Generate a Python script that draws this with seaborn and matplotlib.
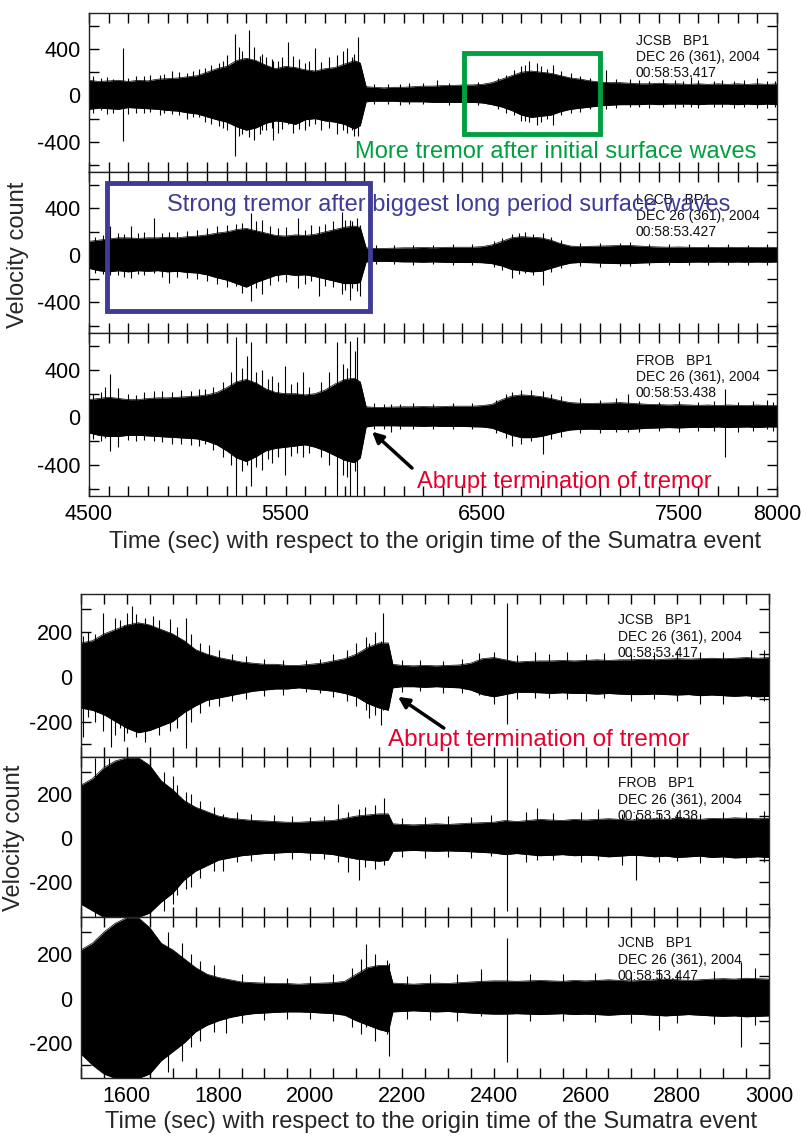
import numpy as np
import pandas as pd
import seaborn as sns
import matplotlib
matplotlib.use("Agg")
import matplotlib.pyplot as plt
from matplotlib.patches import Rectangle
from matplotlib.ticker import FixedLocator, FuncFormatter

# ---------------- DATA ----------------
# Upper figure: time grid (s) and envelope peaks (velocity counts)
TOP_T = [4500, 4550, 4600, 4650, 4700, 4750, 4800, 4850, 4900, 4950,
         5000, 5050, 5100, 5150, 5200, 5250, 5300, 5350, 5400, 5450,
         5500, 5550, 5600, 5650, 5700, 5750, 5800, 5850, 5880, 5910,
         5950, 6000, 6050, 6100, 6150, 6200, 6250, 6300, 6350, 6400,
         6450, 6500, 6550, 6600, 6650, 6700, 6750, 6800, 6850, 6900,
         6950, 7000, 7050, 7100, 7150, 7200, 7250, 7300, 7350, 7400,
         7450, 7500, 7550, 7600, 7650, 7700, 7750, 7800, 7850, 7900,
         7950, 8000]

T1_HI = [130, 120, 125, 130, 120, 130, 125, 140, 145, 150,
         160, 170, 200, 230, 250, 300, 320, 300, 260, 230,
         250, 240, 220, 210, 230, 240, 270, 300, 280, 75,
         70, 65, 70, 70, 75, 80, 80, 85, 85, 90,
         90, 95, 110, 140, 170, 200, 210, 200, 190, 170,
         150, 140, 125, 115, 110, 110, 105, 100, 100, 105,
         100, 100, 95, 100, 95, 100, 95, 100, 95, 100,
         95, 100]
T1_LO = [-120, -110, -115, -120, -105, -110, -115, -120, -130, -135,
         -150, -160, -185, -210, -230, -270, -300, -280, -240, -220,
         -230, -250, -210, -200, -220, -230, -250, -290, -260, -55,
         -50, -50, -50, -55, -55, -55, -60, -60, -60, -60,
         -60, -65, -80, -100, -130, -170, -190, -180, -170, -140,
         -120, -110, -100, -90, -85, -80, -80, -80, -75, -80,
         -75, -75, -75, -80, -75, -75, -75, -80, -75, -80,
         -75, -80]

T2_HI = [120, 130, 140, 150, 150, 145, 150, 150, 155, 150,
         160, 165, 175, 190, 200, 220, 230, 210, 190, 170,
         165, 175, 170, 180, 200, 220, 240, 250, 240, 65,
         60, 60, 62, 65, 65, 68, 65, 68, 70, 70,
         70, 75, 90, 120, 150, 160, 155, 150, 130, 100,
         80, 75, 78, 80, 82, 85, 85, 80, 75, 72,
         70, 72, 70, 68, 70, 68, 70, 68, 70, 68,
         70, 68]
T2_LO = [-110, -130, -140, -130, -140, -130, -135, -130, -140, -135,
         -145, -150, -165, -190, -210, -240, -270, -230, -200, -170,
         -160, -170, -165, -180, -200, -220, -240, -240, -230, -55,
         -50, -50, -52, -55, -55, -58, -55, -58, -60, -60,
         -60, -62, -70, -90, -120, -130, -140, -135, -110, -85,
         -65, -60, -62, -65, -68, -70, -70, -65, -62, -60,
         -58, -60, -58, -56, -58, -56, -58, -56, -58, -56,
         -58, -56]

T3_HI = [150, 160, 170, 160, 150, 150, 160, 165, 165, 170,
         175, 180, 190, 210, 250, 300, 320, 290, 240, 210,
         200, 200, 190, 200, 230, 280, 320, 330, 300, 90,
         85, 85, 88, 90, 90, 92, 90, 92, 95, 95,
         95, 100, 110, 150, 180, 190, 185, 175, 160, 140,
         125, 120, 118, 120, 122, 125, 120, 115, 110, 108,
         105, 108, 105, 102, 105, 100, 105, 102, 100, 105,
         100, 100]
T3_LO = [-130, -150, -160, -160, -150, -150, -155, -160, -165, -170,
         -175, -180, -200, -230, -280, -340, -370, -330, -280, -260,
         -250, -240, -230, -250, -280, -320, -360, -380, -340, -80,
         -70, -70, -70, -72, -72, -75, -72, -75, -75, -75,
         -78, -80, -90, -120, -150, -170, -170, -160, -140, -120,
         -105, -100, -98, -100, -100, -102, -100, -95, -90, -88,
         -85, -88, -85, -82, -85, -80, -85, -82, -80, -85,
         -80, -80]

# isolated spikes (time, max, min) read along the trace edges
T1_SPK_T = [4671, 4740, 4920, 5060, 5160, 5243, 5280, 5314, 5340, 5380, 5430, 5438,
            5513, 5650, 5811, 5840, 5870, 6271, 6700, 6740, 6780, 6860, 7130, 7560, 7900,
            4520, 4560, 4590, 4620, 4700, 4780, 4810, 4860, 4880, 4960, 5000, 5030,
            5090, 5120, 5180, 5200, 5265, 5370, 5400, 5460, 5480, 5540, 5570, 5600,
            5620, 5680, 5720, 5760, 5790, 5850,
            5950, 6020, 6080, 6130, 6200, 6330, 6420, 6480, 6580, 6620, 6660, 6720,
            6800, 6830, 6900, 6950, 7000, 7050, 7180, 7250, 7300, 7350, 7420, 7480,
            7520, 7600, 7680, 7720, 7780, 7830, 7950, 7990]
T1_SPK_HI = [405, 170, 210, 230, 280, 525, 380, 560, 420, 360, 310, 300,
             460, 410, 405, 330, 500, 130, 250, 300, 280, 260, 215, 160, 150,
             170, 150, 160, 140, 150, 170, 180, 175, 185, 200, 190, 210,
             240, 260, 300, 350, 420, 340, 330, 300, 330, 340, 310, 280,
             300, 290, 330, 350, 380, 360,
             100, 95, 100, 110, 105, 110, 110, 115, 150, 180, 220, 260,
             250, 230, 210, 190, 170, 150, 140, 140, 130, 120, 140, 130,
             125, 130, 120, 130, 120, 130, 120, 125]
T1_SPK_LO = [-390, -150, -160, -190, -260, -525, -330, -360, -380, -300, -280, -385,
             -250, -250, -320, -300, -350, -60, -220, -230, -255, -255, -120, -100, -110,
             -150, -130, -160, -150, -160, -150, -140, -170, -150, -170, -200, -190,
             -230, -250, -280, -300, -350, -330, -300, -320, -290, -320, -290, -300,
             -260, -300, -280, -330, -300, -350,
             -70, -70, -80, -70, -75, -80, -70, -85, -120, -150, -170, -220,
             -230, -200, -170, -150, -140, -120, -110, -100, -100, -110, -100, -110,
             -100, -110, -100, -100, -110, -100, -110, -100]

T2_SPK_T = [4607, 4712, 4830, 4909, 5249, 5323, 5380, 5564, 5668, 5786, 5826,
            5865, 5878, 6651, 6716, 6808, 7200, 7650,
            4530, 4570, 4650, 4680, 4750, 4780, 4870, 4950, 5000, 5050, 5100, 5150,
            5200, 5280, 5350, 5420, 5460, 5500, 5600, 5630, 5700, 5740, 5800, 5840,
            5960, 6050, 6150, 6250, 6350, 6450, 6560, 6600, 6690, 6760, 6850, 6900,
            7000, 7100, 7250, 7350, 7450, 7550, 7750, 7850, 7950]
T2_SPK_HI = [254, 250, 320, 200, 270, 360, 300, 315, 250, 370, 300,
             320, 260, 180, 200, 190, 110, 100,
             160, 170, 190, 180, 190, 200, 190, 200, 210, 220, 230, 250,
             260, 280, 290, 250, 230, 240, 220, 260, 270, 290, 300, 290,
             85, 90, 85, 90, 95, 95, 120, 150, 190, 185, 160, 130,
             110, 110, 115, 100, 95, 95, 95, 90, 95]
T2_SPK_LO = [-170, -190, -150, -235, -260, -390, -330, -280, -345, -330, -375,
             -300, -345, -190, -150, -250, -90, -85,
             -150, -160, -170, -180, -160, -170, -180, -180, -190, -200, -220, -240,
             -270, -320, -280, -250, -220, -230, -240, -220, -260, -270, -290, -280,
             -70, -75, -80, -75, -80, -80, -100, -120, -160, -170, -140, -110,
             -90, -95, -90, -85, -80, -80, -80, -85, -80]

T3_SPK_T = [4581, 4607, 4647, 4830, 5092, 5249, 5302, 5323, 5380, 5433, 5498, 5590,
            5760, 5826, 5852, 5865, 6035, 6651, 6808, 7240, 7738, 7950,
            4520, 4560, 4700, 4740, 4780, 4870, 4920, 4970, 5020, 5060, 5130, 5180,
            5220, 5280, 5350, 5410, 5460, 5530, 5560, 5620, 5680, 5720, 5790, 5810,
            5950, 6000, 6080, 6150, 6250, 6350, 6450, 6570, 6620, 6700, 6750, 6850,
            6900, 7000, 7100, 7180, 7300, 7400, 7500, 7600, 7680, 7800, 7880, 7980]
T3_SPK_HI = [260, 363, 250, 220, 240, 680, 520, 635, 400, 350, 435, 380,
             635, 640, 560, 680, 110, 210, 220, 200, 240, 150,
             200, 210, 200, 190, 210, 220, 210, 230, 220, 240, 260, 300,
             380, 420, 380, 320, 300, 280, 300, 260, 300, 380, 450, 420,
             120, 110, 115, 120, 115, 120, 125, 150, 200, 230, 230, 200,
             180, 160, 150, 160, 140, 130, 140, 130, 140, 130, 140, 130]
T3_SPK_LO = [-170, -280, -250, -200, -220, -680, -400, -580, -440, -380, -480, -330,
             -680, -680, -450, -680, -120, -240, -310, -120, -330, -100,
             -180, -200, -190, -200, -190, -210, -220, -220, -230, -240, -270, -330,
             -400, -450, -420, -350, -330, -320, -300, -300, -330, -400, -480, -500,
             -100, -95, -100, -95, -100, -100, -100, -130, -170, -220, -200, -180,
             -160, -130, -130, -120, -120, -110, -120, -110, -110, -120, -110, -110]

# Lower figure
BOT_T = [1500, 1525, 1550, 1575, 1600, 1625, 1650, 1675, 1700, 1725,
         1750, 1775, 1800, 1825, 1850, 1875, 1900, 1925, 1950, 1975,
         2000, 2025, 2050, 2075, 2100, 2125, 2150, 2170, 2180, 2200,
         2225, 2250, 2275, 2300, 2325, 2350, 2375, 2400, 2425, 2450,
         2475, 2500, 2525, 2550, 2575, 2600, 2625, 2650, 2675, 2700,
         2725, 2750, 2775, 2800, 2825, 2850, 2875, 2900, 2925, 2950,
         2975, 3000]

B1_HI = [150, 160, 190, 210, 230, 240, 230, 210, 190, 160,
         120, 100, 85, 75, 65, 60, 55, 55, 50, 50,
         55, 60, 70, 80, 100, 130, 150, 150, 55, 50,
         48, 50, 48, 50, 52, 60, 80, 85, 75, 65,
         68, 70, 70, 72, 70, 72, 75, 72, 75, 75,
         78, 75, 78, 80, 78, 80, 82, 80, 82, 85,
         82, 85]
B1_LO = [-140, -150, -170, -200, -230, -250, -240, -220, -200, -160,
         -130, -105, -95, -85, -75, -65, -60, -55, -55, -50,
         -55, -60, -65, -75, -90, -120, -140, -150, -50, -45,
         -45, -48, -45, -48, -50, -60, -80, -90, -80, -70,
         -70, -72, -75, -72, -75, -75, -78, -75, -78, -80,
         -80, -78, -80, -82, -80, -85, -82, -85, -88, -85,
         -90, -88]

B2_HI = [240, 270, 320, 350, 365, 365, 330, 260, 220, 170,
         140, 120, 100, 90, 85, 80, 78, 75, 72, 72,
         75, 78, 80, 90, 100, 105, 110, 110, 65, 62,
         60, 62, 65, 62, 65, 68, 70, 72, 80, 75,
         80, 85, 82, 80, 85, 82, 85, 88, 85, 82,
         85, 88, 85, 90, 88, 85, 90, 88, 92, 90,
         88, 90]
B2_LO = [-300, -330, -360, -360, -360, -360, -340, -290, -250, -190,
         -150, -125, -100, -90, -80, -75, -70, -68, -65, -65,
         -68, -70, -75, -85, -95, -100, -105, -100, -60, -58,
         -56, -58, -60, -58, -60, -62, -65, -68, -75, -70,
         -75, -80, -78, -75, -80, -78, -80, -85, -82, -78,
         -80, -85, -82, -88, -85, -82, -88, -85, -90, -88,
         -85, -88]

B3_HI = [220, 250, 300, 340, 365, 365, 320, 250, 220, 180,
         140, 110, 95, 85, 75, 72, 70, 68, 68, 65,
         68, 70, 72, 78, 110, 140, 150, 150, 70, 68,
         65, 68, 70, 68, 72, 75, 78, 80, 80, 78,
         80, 82, 80, 78, 82, 80, 82, 85, 82, 80,
         82, 85, 88, 85, 82, 85, 88, 90, 88, 92,
         90, 88]
B3_LO = [-250, -300, -340, -360, -360, -360, -340, -280, -240, -200,
         -150, -120, -100, -85, -75, -68, -65, -62, -60, -60,
         -62, -65, -68, -75, -100, -120, -140, -150, -60, -58,
         -55, -58, -60, -58, -62, -65, -68, -70, -70, -68,
         -70, -72, -70, -68, -72, -70, -72, -75, -72, -70,
         -72, -75, -78, -75, -72, -75, -78, -80, -78, -82,
         -80, -78]

B1_SPK_T = [1505, 1548, 1566, 1594, 1600, 1611, 1656, 1694, 1728, 1760, 2122, 2128,
            2155, 2159, 2367, 2428, 2490, 2560, 2700, 2850, 2960,
            1515, 1530, 1575, 1585, 1620, 1640, 1670, 1710, 1740, 1780, 1800, 1830,
            1860, 1900, 1940, 1990, 2020, 2050, 2080, 2100, 2140, 2200, 2240, 2290,
            2330, 2400, 2450, 2520, 2600, 2640, 2750, 2800, 2900, 2990]
B1_SPK_HI = [180, 285, 200, 230, 284, 313, 270, 255, 262, 150, 175, 150,
             160, 284, 105, 330, 110, 110, 100, 110, 120,
             200, 190, 260, 250, 280, 260, 250, 220, 190, 140, 120, 100,
             90, 80, 75, 75, 80, 100, 120, 150, 200, 75, 75, 70,
             80, 110, 95, 100, 100, 105, 110, 115, 110, 120]
B1_SPK_LO = [-270, -240, -315, -285, -250, -230, -230, -240, -320, -160, -150, -185,
             -215, -150, -80, -210, -95, -100, -110, -120, -100,
             -180, -200, -260, -230, -270, -290, -260, -230, -200, -130, -130, -110,
             -100, -85, -80, -70, -75, -90, -110, -130, -170, -70, -65, -75,
             -75, -120, -100, -95, -110, -95, -100, -110, -120, -110]

B2_SPK_T = [1530, 1560, 1680, 1700, 1740, 1810, 2061, 2083, 2106, 2161, 2394, 2428,
            2494, 2628, 2711, 2590, 2900,
            1710, 1730, 1760, 1790, 1840, 1870, 1920, 1960, 2000, 2030, 2120, 2140,
            2200, 2250, 2300, 2350, 2470, 2530, 2680, 2760, 2800, 2850, 2950, 2990]
B2_SPK_HI = [365, 365, 300, 280, 200, 110, 157, 120, 130, 180, 105, 365,
             135, 130, 110, 120, 120,
             240, 210, 170, 140, 120, 110, 105, 100, 95, 100, 140, 150,
             90, 95, 100, 95, 120, 115, 110, 115, 120, 110, 120, 125]
B2_SPK_LO = [-360, -360, -330, -300, -220, -150, -110, -155, -190, -120, -80, -330,
             -100, -100, -190, -110, -115,
             -260, -230, -180, -150, -110, -105, -100, -95, -100, -95, -130, -140,
             -85, -90, -85, -90, -110, -100, -120, -110, -105, -115, -115, -110]

B3_SPK_T = [1690, 1720, 1817, 2122, 2167, 2172, 2372, 2428, 2761, 2939,
            1740, 1760, 1790, 1850, 1900, 1950, 2000, 2050, 2090, 2110, 2140, 2210,
            2260, 2320, 2480, 2550, 2620, 2700, 2800, 2880, 2970]
B3_SPK_HI = [300, 250, 90, 245, 175, 160, 135, 275, 135, 165,
             200, 170, 150, 110, 100, 95, 100, 110, 140, 180, 200, 100,
             110, 110, 110, 110, 115, 120, 120, 125, 140]
B3_SPK_LO = [-330, -280, -155, -130, -160, -257, -80, -285, -140, -220,
             -220, -190, -150, -110, -95, -90, -90, -100, -130, -160, -190, -90,
             -95, -100, -100, -100, -105, -110, -110, -115, -120]

TOP_STATIONS = [["JCSB   BP1", "DEC 26 (361), 2004", "00:58:53.417"],
                ["LCCB   BP1", "DEC 26 (361), 2004", "00:58:53.427"],
                ["FROB   BP1", "DEC 26 (361), 2004", "00:58:53.438"]]
BOT_STATIONS = [["JCSB   BP1", "DEC 26 (361), 2004", "00:58:53.417"],
                ["FROB   BP1", "DEC 26 (361), 2004", "00:58:53.438"],
                ["JCNB   BP1", "DEC 26 (361), 2004", "00:58:53.447"]]

TOP_XLABELS = [4500, 5500, 6500, 7500, 8000]
TOP_YLABELS = [-400, 0, 400]
BOT_XLABELS = [1600, 1800, 2000, 2200, 2400, 2600, 2800, 3000]
BOT_YLABELS = [-200, 0, 200]

XLABEL = "Time (sec) with respect to the origin time of the Sumatra event"
YLABEL = "Velocity count"

# ---------------- STYLE ----------------
sns.set_style("ticks")
FONT = ["Liberation Sans Narrow", "Liberation Sans", "DejaVu Sans"]
plt.rcParams["font.family"] = FONT
plt.rcParams["axes.linewidth"] = 1.0

GREEN = "#00a040"
BLUE = "#3f3c96"
RED = "#e6002d"

W, H = 806, 1138
fig = plt.figure(figsize=(W / 100, H / 100), dpi=100)


def add_ax(left, top, right, bottom):
    return fig.add_axes([left / W, 1 - bottom / H, (right - left) / W, (bottom - top) / H])


def draw_trace(ax, t, hi, lo, st, sh, sl):
    df = pd.DataFrame({"t": t, "hi": hi, "lo": lo})
    ax.fill_between(df["t"], df["lo"], df["hi"], color="black", lw=0)
    sns.lineplot(data=df, x="t", y="hi", ax=ax, color="black", lw=0.5)
    sns.lineplot(data=df, x="t", y="lo", ax=ax, color="black", lw=0.5)
    ax.vlines(st, sl, sh, color="black", lw=0.8)
    ax.set_xlabel("")
    ax.set_ylabel("")


def style_ax(ax, xlim, ylim, xticks, xlabels, yticks, ylabels, show_x):
    ax.set_xlim(*xlim)
    ax.set_ylim(*ylim)
    ax.xaxis.set_major_locator(FixedLocator(xticks))
    ax.yaxis.set_major_locator(FixedLocator(yticks))
    ax.xaxis.set_major_formatter(FuncFormatter(
        lambda v, p: (str(int(round(v))) if (show_x and int(round(v)) in xlabels) else "")))
    ax.yaxis.set_major_formatter(FuncFormatter(
        lambda v, p: (str(int(round(v))) if int(round(v)) in ylabels else "")))
    ax.tick_params(direction="in", length=7, width=1, top=True, right=True,
                   labelsize=15.5, pad=6, colors="black")
    for s in ax.spines.values():
        s.set_color("#222222")


def station(ax, lines, xfrac, offs):
    for line, off in zip(lines, offs):
        ax.annotate(line, xy=(xfrac, 1), xycoords="axes fraction",
                    xytext=(0, -off), textcoords="offset pixels",
                    ha="left", va="center", fontsize=10,
                    family=FONT, color="#111111", zorder=6)


# ---------------- UPPER FIGURE ----------------
top_axes = [add_ax(89, 13, 777, 172), add_ax(89, 172, 777, 333), add_ax(89, 333, 777, 496)]
top_data = [(T1_HI, T1_LO, T1_SPK_T, T1_SPK_HI, T1_SPK_LO),
            (T2_HI, T2_LO, T2_SPK_T, T2_SPK_HI, T2_SPK_LO),
            (T3_HI, T3_LO, T3_SPK_T, T3_SPK_HI, T3_SPK_LO)]
for i, (ax, d) in enumerate(zip(top_axes, top_data)):
    draw_trace(ax, TOP_T, d[0], d[1], d[2], d[3], d[4])
    style_ax(ax, (4500, 8000), (-660, 710), list(range(4500, 8001, 100)), TOP_XLABELS,
             [-600, -400, -200, 0, 200, 400, 600], TOP_YLABELS, show_x=(i == 2))
    station(ax, TOP_STATIONS[i], (636 - 89) / 688, [28, 44, 60])

# annotations upper figure
ax1, ax2, ax3 = top_axes
ax1.add_patch(Rectangle((6408, -332), 692, 698, fill=False, ec=GREEN, lw=3.5, zorder=5))
ax1.text(6876, -485, "More tremor after initial surface waves", color=GREEN,
         ha="center", va="center", fontsize=17, zorder=6)
ax2.add_patch(Rectangle((4592, -477), 1338, 1090, fill=False, ec=BLUE, lw=3.5, zorder=5))
ax2.text(6331, 425, "Strong tremor after biggest long period surface waves", color=BLUE,
         ha="center", va="center", fontsize=17, zorder=7)
ax3.annotate("", xy=(5940, -119), xytext=(6143, -425),
             arrowprops=dict(arrowstyle="-|>", color="black", lw=2.5, mutation_scale=16,
                             shrinkA=0, shrinkB=0), zorder=6)
ax3.text(6916, -545, "Abrupt termination of tremor", color=RED,
         ha="center", va="center", fontsize=17, zorder=6)

fig.text(435 / W, 1 - 542 / H, XLABEL, ha="center", va="center", fontsize=17)
fig.text(18 / W, 1 - 255 / H, YLABEL, ha="center", va="center", rotation=90, fontsize=17)

# ---------------- LOWER FIGURE ----------------
bot_axes = [add_ax(81, 594, 769, 757), add_ax(81, 757, 769, 917), add_ax(81, 917, 769, 1078)]
bot_data = [(B1_HI, B1_LO, B1_SPK_T, B1_SPK_HI, B1_SPK_LO),
            (B2_HI, B2_LO, B2_SPK_T, B2_SPK_HI, B2_SPK_LO),
            (B3_HI, B3_LO, B3_SPK_T, B3_SPK_HI, B3_SPK_LO)]
for i, (ax, d) in enumerate(zip(bot_axes, bot_data)):
    draw_trace(ax, BOT_T, d[0], d[1], d[2], d[3], d[4])
    style_ax(ax, (1500, 3000), (-358, 368), list(range(1500, 3001, 50)), BOT_XLABELS,
             [-300, -200, -100, 0, 100, 200, 300], BOT_YLABELS, show_x=(i == 2))
    station(ax, BOT_STATIONS[i], (618 - 81) / 688, [26, 43, 59])

b1 = bot_axes[0]
b1.annotate("", xy=(2191, -90), xytext=(2291, -229),
            arrowprops=dict(arrowstyle="-|>", color="black", lw=2.5, mutation_scale=16,
                            shrinkA=0, shrinkB=0), zorder=6)
b1.text(2498, -283, "Abrupt termination of tremor", color=RED,
        ha="center", va="center", fontsize=17.5, zorder=6)

fig.text(431 / W, 1 - 1122 / H, XLABEL, ha="center", va="center", fontsize=17)
fig.text(14 / W, 1 - 838 / H, YLABEL, ha="center", va="center", rotation=90, fontsize=17)

fig.savefig("out.png", dpi=100, facecolor="white")
